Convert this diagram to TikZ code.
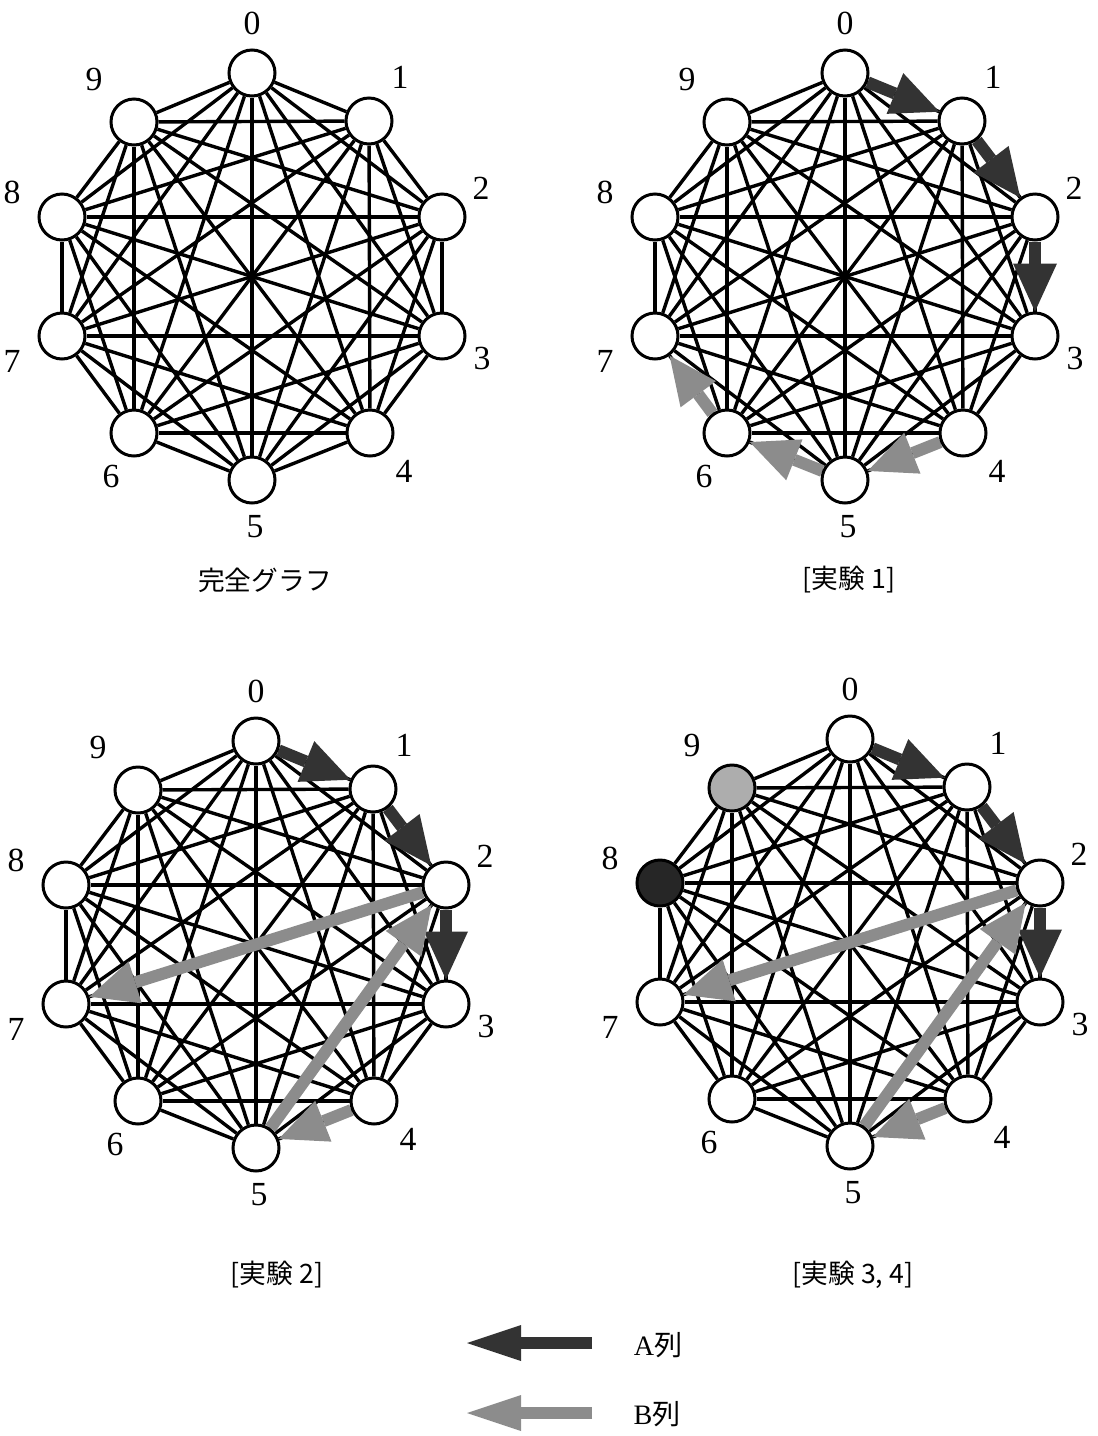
\documentclass[tikz,border=0pt]{standalone}
\usepackage{fontspec}
\setmainfont{Liberation Serif}
\newfontfamily\jpfont{Noto Sans CJK JP}
\usetikzlibrary{arrows.meta,calc}
\pgfdeclarelayer{edges}
\pgfdeclarelayer{flows}
\pgfsetlayers{edges,flows,main}

\begin{document}
\begin{tikzpicture}[
x=0.25mm, y=-0.25mm,
vtx/.style={draw, circle, line width=0.75mm, fill=white, minimum size=11.5mm, inner sep=0pt},
num/.style={font=\fontsize{24}{24}\selectfont, inner sep=0pt},
edge/.style={line width=0.85mm},
arrA/.style={black!80, line width=3mm, -{Triangle[length=12mm, width=11mm, line width=0pt]}},
arrB/.style={black!45, line width=3mm, -{Triangle[length=12mm, width=11mm, line width=0pt]}},
keytip/.style={-{Triangle[length=13.5mm, width=9mm, line width=0pt]}},
captxt/.style={font=\jpfont\fontsize{19}{19}\selectfont, inner sep=0pt},
keytext/.style={font=\fontsize{20}{20}\selectfont, inner sep=0pt},
col-d8/.style={fill=black!85},
col-d9/.style={fill=black!32}
]
\useasboundingbox (0,0) rectangle (1098,1436);

% four copies of the ten vertices
\foreach \g/\cx/\cy in {a/252/276, b/845/276, c/256/944, d/850/942} {
  \begin{scope}[shift={(\cx,\cy)}]
    \foreach \i/\dx/\dy/\lx/\ly in {0/0/-203/0/-253, 1/117/-155/148/-199, 2/190/-59/229/-88,
        3/190/60/230/82, 4/118/157/152/195, 5/0/204/3/251, 6/-118/157/-141/200,
        7/-190/60/-240/85, 8/-190/-59/-240/-84, 9/-118/-154/-158/-197} {
      \node[vtx, col-\g\i/.try] (\g\i) at (\dx,\dy) {};
      \node[num] (l\g\i) at (\lx,\ly) {\i};
    }
  \end{scope}
}

% complete graph edges
\begin{pgfonlayer}{edges}
\foreach \g in {a,b,c,d}
  \foreach \i in {0,...,8} {
    \pgfmathtruncatemacro\k{\i+1}
    \foreach \j in {\k,...,9}
      \draw[edge] (\g\i) -- (\g\j);
  }
\end{pgfonlayer}

% sequences A and B
\begin{pgfonlayer}{flows}
\foreach \g in {b,c,d}
  \foreach \s/\t in {0/1,1/2,2/3}
    \draw[arrA] (\g\s) -- (\g\t);
\foreach \s/\t in {4/5,5/6,6/7}
  \draw[arrB] (b\s) -- (b\t);
\foreach \g in {c,d}
  \foreach \s/\t in {4/5,5/2,2/7}
    \draw[arrB] (\g\s) -- (\g\t);
\end{pgfonlayer}

\node[captxt] (capa) at (265,580) {完全グラフ};
\node[captxt] (capb) at (849,580) {[実験 1]};
\node[captxt] (capc) at (277,1275) {[実験 2]};
\node[captxt] (capd) at (853,1275) {[実験 3, 4]};

% legend
\coordinate (keyA1) at (592,1343);
\coordinate (keyA0) at (467,1343);
\draw[arrA, keytip] (keyA1) -- (keyA0);
\node[keytext] (txtA) at (658,1345) {A{\jpfont 列}};
\coordinate (keyB1) at (592,1413);
\coordinate (keyB0) at (467,1413);
\draw[arrB, keytip] (keyB1) -- (keyB0);
\node[keytext] (txtB) at (657,1414) {B{\jpfont 列}};
\end{tikzpicture}
\end{document}
